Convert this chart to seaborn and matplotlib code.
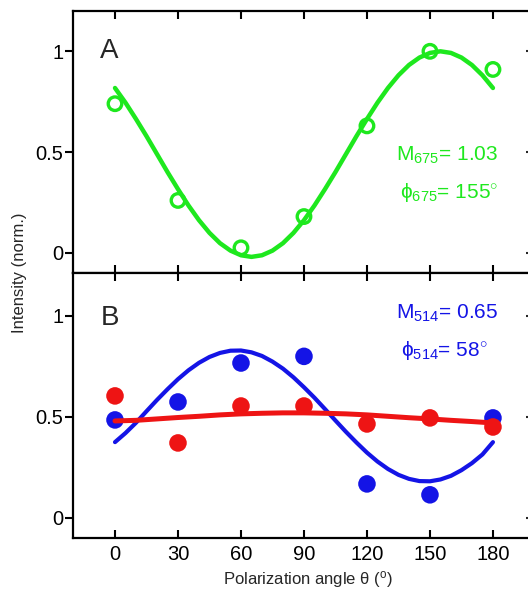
import numpy as np
import pandas as pd
import seaborn as sns
import matplotlib
matplotlib.use("Agg")
import matplotlib.pyplot as plt

# ---- data ----
angles = [0, 30, 60, 90, 120, 150, 180]
green_pts = [0.74, 0.26, 0.025, 0.18, 0.63, 1.0, 0.91]
blue_pts = [0.485, 0.574, 0.767, 0.80, 0.168, 0.114, 0.495]
red_pts = [0.604, 0.371, 0.554, 0.554, 0.465, 0.495, 0.45]

fit_angles = [0, 5, 10, 15, 20, 25, 30, 35, 40, 45, 50, 55, 60, 65, 70, 75, 80, 85, 90,
              95, 100, 105, 110, 115, 120, 125, 130, 135, 140, 145, 150, 155, 160, 165,
              170, 175, 180]
green_fit = [0.818, 0.745, 0.664, 0.579, 0.49, 0.401, 0.316, 0.235, 0.162, 0.099, 0.048,
             0.011, -0.012, -0.02, -0.012, 0.011, 0.048, 0.099, 0.162, 0.235, 0.316,
             0.401, 0.49, 0.579, 0.664, 0.745, 0.818, 0.881, 0.932, 0.969, 0.992, 1.0,
             0.992, 0.969, 0.932, 0.881, 0.818]
blue_fit = [0.375, 0.42, 0.471, 0.528, 0.584, 0.637, 0.687, 0.731, 0.768, 0.797, 0.817,
            0.828, 0.829, 0.82, 0.802, 0.774, 0.739, 0.696, 0.647, 0.595, 0.539, 0.482,
            0.426, 0.373, 0.323, 0.279, 0.242, 0.213, 0.193, 0.182, 0.181, 0.19, 0.208,
            0.236, 0.271, 0.314, 0.375]
red_fit_angles = [0, 10, 20, 30, 40, 50, 60, 70, 80, 90, 100, 110, 120, 130, 140, 150,
                  160, 170, 180]
red_fit = [0.48, 0.483, 0.49, 0.497, 0.503, 0.51, 0.515, 0.518, 0.52, 0.52,
           0.518, 0.515, 0.51, 0.503, 0.496, 0.49, 0.483, 0.477, 0.47]

xticks = [0, 30, 60, 90, 120, 150, 180]
yticks = [0, 0.5, 1]
ytick_labels = ["0", "0.5", "1"]

GREEN = "#1ee81e"
BLUE = "#1414e6"
RED = "#ee1414"

sns.set_style("ticks")
plt.rcParams["font.family"] = ["Liberation Sans", "DejaVu Sans"]
plt.rcParams["mathtext.fontset"] = "custom"
plt.rcParams["mathtext.rm"] = "Liberation Sans"
plt.rcParams["mathtext.it"] = "Liberation Sans"

fig = plt.figure(figsize=(5.28, 5.97), dpi=100)
W, H = 528, 597
left = 73 / W
width = (536 - 73) / W
axA = fig.add_axes([left, (H - 273) / H, width, 262 / H])
axB = fig.add_axes([left, (H - 538) / H, width, 265 / H])

pts = pd.DataFrame({"angle": angles, "green": green_pts, "blue": blue_pts, "red": red_pts})
fit = pd.DataFrame({"angle": fit_angles, "green": green_fit, "blue": blue_fit})
rfit = pd.DataFrame({"angle": red_fit_angles, "red": red_fit})

# Panel A
sns.lineplot(data=fit, x="angle", y="green", ax=axA, color=GREEN, lw=3.2, zorder=2)
sns.scatterplot(data=pts, x="angle", y="green", ax=axA, s=95, facecolors="none",
                edgecolor=GREEN, linewidth=2.4, zorder=3)

# Panel B
sns.scatterplot(data=pts, x="angle", y="blue", ax=axB, s=160, color=BLUE,
                edgecolor="none", zorder=2)
sns.lineplot(data=fit, x="angle", y="blue", ax=axB, color=BLUE, lw=3.0, zorder=3)
sns.scatterplot(data=pts, x="angle", y="red", ax=axB, s=160, color=RED,
                edgecolor="none", zorder=4)
sns.lineplot(data=rfit, x="angle", y="red", ax=axB, color=RED, lw=3.6, zorder=5)

for ax, ylim in ((axA, (-0.1, 1.2)), (axB, (-0.1, 1.213))):
    ax.set_xlim(-20, 200.5)
    ax.set_ylim(*ylim)
    ax.set_xticks(xticks)
    ax.set_yticks(yticks)
    ax.set_yticklabels(ytick_labels)
    ax.set_xlabel("")
    ax.set_ylabel("")
    for sp in ax.spines.values():
        sp.set_visible(True)
        sp.set_linewidth(1.6)
        sp.set_color("black")
    ax.tick_params(axis="x", direction="in", top=True, bottom=True, length=6,
                   width=1.5, labelsize=14.5, colors="black", pad=5)
    ax.tick_params(axis="y", direction="out", left=True, right=False, length=6,
                   width=1.5, labelsize=14.5, colors="black", pad=1)
    sec = ax.secondary_yaxis("right")
    sec.set_yticks(yticks)
    sec.tick_params(direction="in", length=7, width=1.5, labelright=False)
    sec.spines["right"].set_linewidth(1.6)

axA.tick_params(axis="x", labelbottom=False)

axA.text(-7, 1.0, "A", fontsize=20, ha="left", va="center")
axB.text(-7, 0.99, "B", fontsize=20, ha="left", va="center")

axA.text(158, 0.485, r"M$_{675}$= 1.03", color=GREEN, fontsize=15, ha="center", va="center")
axA.text(159, 0.297, r"ϕ$_{675}$= 155$^{\circ}$", color=GREEN, fontsize=15, ha="center", va="center")
axB.text(158, 1.015, r"M$_{514}$= 0.65", color=BLUE, fontsize=15, ha="center", va="center")
axB.text(157, 0.83, r"ϕ$_{514}$= 58$^{\circ}$", color=BLUE, fontsize=15, ha="center", va="center")

fig.text(20 / W, (H - 273) / H, "Intensity (norm.)", rotation=90, fontsize=12,
         ha="center", va="center")
fig.text(308 / W, (H - 580) / H, r"Polarization angle θ ($^{\rm o}$)", fontsize=12,
         ha="center", va="center")

fig.savefig("out.png", dpi=100)
